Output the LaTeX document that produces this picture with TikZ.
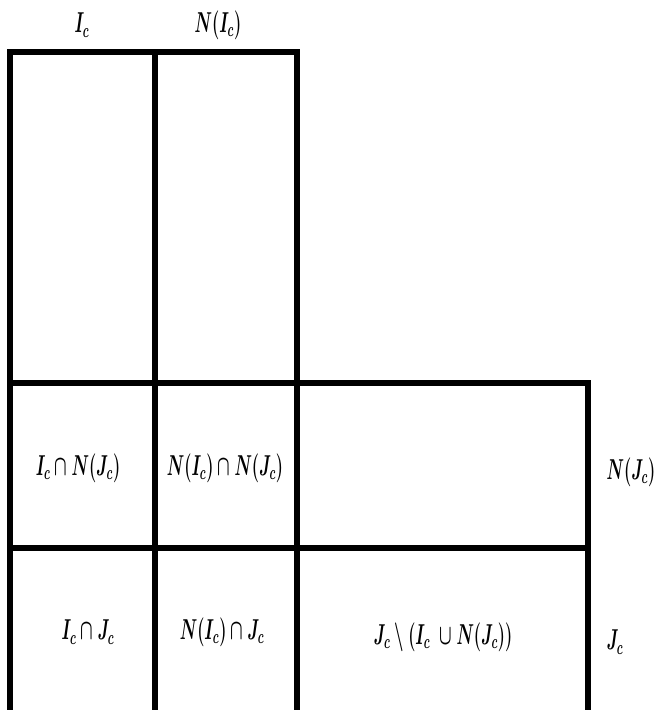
\documentclass[tikz,border=0pt]{standalone}
\usepackage{amsmath}
\usepackage{tikz}
\usetikzlibrary{positioning}

\begin{document}
\begin{tikzpicture}[
  x=0.5pt, y=-0.5pt,
  every node/.style={font=\fontsize{14}{16}\selectfont\boldmath},
  grid/.style={line width=2.6pt, line join=miter},
  lab/.style={xscale=0.57, transform shape, inner sep=0pt}
]
\useasboundingbox (0,0) rectangle (659,710);

\draw[grid] (10,710) -- (10,52) -- (297,52) -- (297,710);
\draw[grid] (155,52) -- (155,710);
\draw[grid] (10,383) -- (588,383) -- (588,710);
\draw[grid] (10,548) -- (588,548);

\node[lab] (ic) at (82,25) {$I_c$};
\node[lab] (nic) at (218,25) {$N(I_c)$};

\node[lab] (icnjc) at (78,468) {$I_c\cap N(J_c)$};
\node[lab] (nicnjc) at (225,468) {$N(I_c)\cap N(J_c)$};
\node[lab] (icjc) at (88,632) {$I_c\cap J_c$};
\node[lab] (nicjc) at (222,632) {$N(I_c)\cap J_c$};
\node[lab] (rest) at (443,637) {$J_c\setminus(I_c\;\cup N(J_c))$};

\node[lab] (njc) at (631,472) {$N(J_c)$};
\node[lab] (jc) at (615,642) {$J_c$};

\end{tikzpicture}
\end{document}
